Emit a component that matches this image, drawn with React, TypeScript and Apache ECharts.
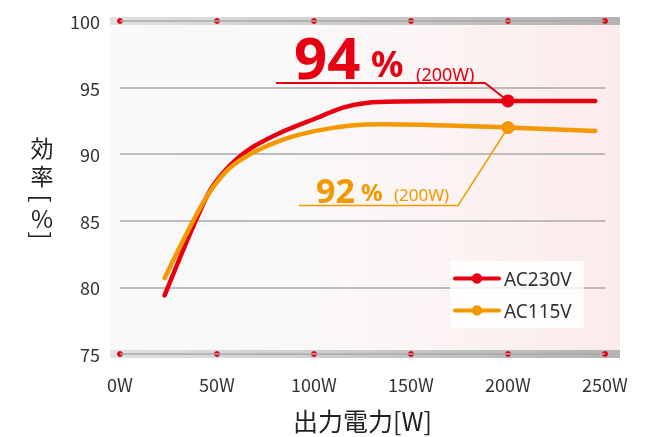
import React, { useEffect, useRef } from "react";
import * as echarts from "echarts";

// Output power (W) and efficiency (%) for each input voltage
const loadW230 = [23, 45, 55, 67, 84, 101, 115, 127, 144, 200, 245];
const eff230 = [79.4, 86.9, 88.9, 90.4, 91.7, 92.7, 93.5, 93.85, 93.95, 94.0, 94.0];
const loadW115 = [23, 43, 55, 67, 84, 101, 119, 136, 200, 245];
const eff115 = [80.7, 86.4, 88.75, 90.0, 91.1, 91.75, 92.15, 92.25, 92.0, 91.75];

const seriesNames = ["AC230V", "AC115V"];
const xTicks = [0, 50, 100, 150, 200, 250];
const highlightW = 200;

const RED = "#e60012";
const ORANGE = "#f39800";
const FONT = '"Noto Sans CJK JP", "Noto Sans", sans-serif';
const LATIN = '"Noto Sans", sans-serif';

function toData(xs: number[], ys: number[]) {
  return xs.map((x, i) => ({
    value: [x, ys[i]],
    symbol: x === highlightW ? "circle" : "none",
  }));
}

export default function App() {
  const ref = useRef<HTMLDivElement>(null);

  useEffect(() => {
    if (!ref.current) return;
    const chart = echarts.init(ref.current, null, { renderer: "svg" });

    const lineSeries = (name: string, xs: number[], ys: number[], color: string) => ({
      name,
      type: "line",
      data: toData(xs, ys),
      smooth: 0.3,
      symbol: "circle",
      symbolSize: 13,
      color,
      lineStyle: { width: 4.5, color, cap: "round" },
      itemStyle: { color },
      z: 3,
    });

    chart.setOption({
      animation: false,
      textStyle: { fontFamily: FONT },
      grid: { left: 120, right: 58, top: 21, bottom: 81 },
      legend: {
        orient: "vertical",
        left: 450,
        top: 261,
        data: seriesNames,
        backgroundColor: "rgba(255,255,255,0.82)",
        padding: [8, 12, 8, 3],
        itemWidth: 44,
        itemHeight: 13,
        itemGap: 13,
        itemTextGap: 9,
        lineStyle: { width: 4 },
        textStyle: { fontSize: 19, color: "#333", fontFamily: LATIN },
      },
      xAxis: {
        type: "value",
        min: 0,
        max: 250,
        interval: 50,
        name: "出力電力[W]",
        nameLocation: "middle",
        nameGap: 53,
        nameTextStyle: { fontSize: 25, color: "#222", fontFamily: FONT },
        axisLine: { show: false },
        axisTick: { show: false },
        splitLine: { show: false },
        axisLabel: {
          margin: 21,
          fontSize: 18,
          color: "#333",
          fontFamily: FONT,
          formatter: (v: number) => `${v}W`,
        },
      },
      yAxis: {
        type: "value",
        min: 75,
        max: 100,
        interval: 5,
        axisLine: { show: false },
        axisTick: { show: false },
        splitLine: {
          show: true,
          lineStyle: { color: "#a9a9a9", width: 1.5 },
        },
        axisLabel: { margin: 20, fontSize: 18, color: "#333", fontFamily: FONT },
      },
      series: [
        lineSeries(seriesNames[0], loadW230, eff230, RED),
        lineSeries(seriesNames[1], loadW115, eff115, ORANGE),
      ],
    });

    const px = (x: number, y: number) =>
      chart.convertToPixel({ gridIndex: 0 }, [x, y]) as number[];
    const [left, top] = px(0, 100);
    const [right, bottom] = px(250, 75);

    const bandLeft = left - 10;
    const bandRight = right + 15;

    const band = (cy: number) => ({
      type: "rect",
      z: -5,
      shape: { x: bandLeft, y: cy - 4, width: bandRight - bandLeft, height: 8 },
      style: {
        fill: new echarts.graphic.LinearGradient(0, 0, 1, 0, [
          { offset: 0, color: "#e0e1e1" },
          { offset: 1, color: "#b3b3b3" },
        ]),
      },
    });

    const dots = [top, bottom].flatMap((cy) =>
      xTicks.map((t) => ({
        type: "circle",
        z: -4,
        shape: { cx: px(t, 75)[0], cy, r: 3 },
        style: { fill: RED },
      }))
    );

    const redAt = px(highlightW, eff230[loadW230.indexOf(highlightW)]);
    const orAt = px(highlightW, eff115[loadW115.indexOf(highlightW)]);

    const txt = (
      x: number,
      y: number,
      text: string,
      size: number,
      color: string,
      weight: string
    ) => ({
      type: "text",
      z: 10,
      style: {
        text,
        x,
        y,
        fill: color,
        font: `${weight} ${size}px ${LATIN}`,
        align: "left",
        verticalAlign: "middle",
      },
    });

    // y-axis title written top-to-bottom; brackets turned for vertical setting
    const nameX = left - 78;
    const midY = (top + bottom) / 2;
    const vChar = (
      text: string,
      dy: number,
      size: number,
      rotation = 0,
      lineHeight?: number
    ) => ({
      type: "text",
      z: 10,
      x: nameX,
      y: midY + dy,
      rotation,
      style: {
        text,
        x: 0,
        y: 0,
        fill: "#222",
        font: `${size}px ${FONT}`,
        lineHeight,
        align: "center",
        verticalAlign: "middle",
      },
    });

    chart.setOption({
      graphic: [
        {
          type: "rect",
          z: -10,
          shape: { x: bandLeft, y: top, width: bandRight - bandLeft, height: bottom - top },
          style: {
            fill: new echarts.graphic.LinearGradient(0, 0, 1, 0, [
              { offset: 0, color: "#f8f9f9" },
              { offset: 0.5, color: "#fbf7f7" },
              { offset: 1, color: "#fcebeb" },
            ]),
          },
        },
        band(top),
        band(bottom),
        ...dots,
        vChar("効\n率", -27, 23, 0, 28),
        vChar("[", 11, 24, -Math.PI / 2),
        vChar("%", 30, 24),
        vChar("]", 48, 24, -Math.PI / 2),
        // AC230V callout
        txt(redAt[0] - 214, redAt[1] - 44, "94", 58, RED, "bold"),
        txt(redAt[0] - 137, redAt[1] - 37, "%", 36, RED, "bold"),
        txt(redAt[0] - 92, redAt[1] - 27, "(200W)", 18, RED, "normal"),
        {
          type: "polyline",
          z: 10,
          shape: {
            points: [
              [redAt[0] - 232, redAt[1] - 18],
              [redAt[0] - 23, redAt[1] - 18],
              [redAt[0], redAt[1]],
            ],
          },
          style: { stroke: RED, lineWidth: 2, fill: null },
        },
        // AC115V callout
        txt(orAt[0] - 192, orAt[1] + 62, "92", 34, ORANGE, "bold"),
        txt(orAt[0] - 147, orAt[1] + 64, "%", 24, ORANGE, "bold"),
        txt(orAt[0] - 114, orAt[1] + 67, "(200W)", 17, ORANGE, "normal"),
        {
          type: "polyline",
          z: 10,
          shape: {
            points: [
              [orAt[0] - 209, orAt[1] + 78],
              [orAt[0] - 50, orAt[1] + 78],
              [orAt[0], orAt[1]],
            ],
          },
          style: { stroke: ORANGE, lineWidth: 1.6, fill: null },
        },
      ],
    });

    return () => chart.dispose();
  }, []);

  return (
    <div
      ref={ref}
      style={{ position: "fixed", left: 0, top: 0, width: 663, height: 437 }}
    />
  );
}
